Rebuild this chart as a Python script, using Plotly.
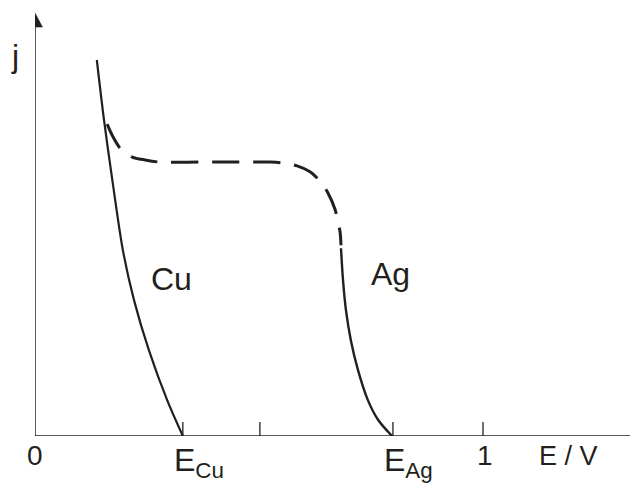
import plotly.graph_objects as go

# ---- data (E in V, j in normalised units) ----
cu_E = [0.138, 0.154, 0.172, 0.196, 0.221, 0.254, 0.295, 0.330]
cu_j = [0.891, 0.749, 0.611, 0.441, 0.322, 0.204, 0.085, 0.000]

limit_E = [0.161, 0.174, 0.190, 0.217, 0.246, 0.279, 0.368, 0.464, 0.525, 0.554,
           0.585, 0.614, 0.638, 0.654, 0.670, 0.681, 0.683]
limit_j = [0.739, 0.709, 0.682, 0.661, 0.654, 0.649, 0.649, 0.649, 0.649, 0.647,
           0.640, 0.626, 0.602, 0.576, 0.536, 0.483, 0.452]

ag_E = [0.683, 0.6875, 0.694, 0.705, 0.721, 0.743, 0.766, 0.797]
ag_j = [0.445, 0.370, 0.299, 0.227, 0.156, 0.085, 0.038, 0.000]

tick_vals = [0.330, 0.502, 0.799, 1.0]
label_vals = [0.0, 0.330, 0.799, 1.0]
label_texts = ["0", "E<sub>Cu</sub>", "E<sub>Ag</sub>", "1"]
curve_labels = ["Cu", "Ag"]
curve_label_pos = [(0.254, 0.373), (0.745, 0.384)]

INK = "#231f20"
FONT = "Liberation Sans, Arial, sans-serif"

fig = go.Figure()
fig.add_trace(go.Scatter(x=cu_E, y=cu_j, mode="lines",
                         line=dict(color=INK, width=2.2, shape="spline", smoothing=0.8),
                         hoverinfo="skip", showlegend=False))
fig.add_trace(go.Scatter(x=limit_E, y=limit_j, mode="lines",
                         line=dict(color=INK, width=3, shape="spline", smoothing=0.8,
                                   dash="27px,14px"),
                         hoverinfo="skip", showlegend=False))
fig.add_trace(go.Scatter(x=ag_E, y=ag_j, mode="lines",
                         line=dict(color=INK, width=2.4, shape="spline", smoothing=0.8),
                         hoverinfo="skip", showlegend=False))

# plot area: 611 x 428 px, page body adds an 8px offset
x_max = 611 / 448
y_max = 428 / 422
PH = 428.0


def paper_y(offset_px):
    """paper coordinate for a point offset_px below the x axis"""
    return -offset_px / PH


shapes = []
shapes.append(dict(type="line", xref="x", yref="y", x0=0, x1=x_max, y0=0, y1=0,
                   line=dict(color=INK, width=1.5)))
shapes.append(dict(type="line", xref="x", yref="y", x0=0, x1=0, y0=0, y1=0.975,
                   line=dict(color=INK, width=1.5)))
for tv in tick_vals:
    shapes.append(dict(type="line", xref="x", yref="y", x0=tv, x1=tv, y0=0, y1=0.033,
                       line=dict(color=INK, width=1.3)))
shapes.append(dict(type="path", xref="x", yref="y",
                   path="M -0.0167,0.969 L 0.0167,0.969 L 0,1.0025 Z",
                   fillcolor=INK, line=dict(color=INK, width=0.5)))
shapes.append(dict(type="path", xref="x", yref="y",
                   path="M 1.3326,-0.0178 L 1.3326,0.0178 L 1.3638,0 Z",
                   fillcolor=INK, line=dict(color=INK, width=0.5)))

ann = []
for v, t in zip(label_vals, label_texts):
    if t.startswith("E"):
        ann.append(dict(x=v, y=paper_y(26), xref="x", yref="paper", text=t, showarrow=False,
                        xanchor="left", yanchor="middle", xshift=-11,
                        font=dict(family=FONT, size=32, color=INK)))
    else:
        ann.append(dict(x=v, y=paper_y(20), xref="x", yref="paper", text=t, showarrow=False,
                        xanchor="center", yanchor="middle", xshift=2 if t == "1" else 0,
                        font=dict(family=FONT, size=28, color=INK)))
ann.append(dict(x=1.127, y=paper_y(20), xref="x", yref="paper", text="E / V", showarrow=False,
                xanchor="left", yanchor="middle", xshift=-3,
                font=dict(family=FONT, size=27, color=INK)))
ann.append(dict(x=0, y=0.9, xref="x", yref="y", text="j", showarrow=False,
                xanchor="center", yanchor="middle", xshift=-20,
                font=dict(family=FONT, size=32, color=INK)))
for t, (lx, ly) in zip(curve_labels, curve_label_pos):
    ann.append(dict(x=lx, y=ly, xref="x", yref="y", text=t, showarrow=False,
                    xanchor="left", yanchor="middle",
                    font=dict(family=FONT, size=32, color=INK)))

fig.update_layout(
    width=638, height=484,
    margin=dict(l=27, r=0, t=0, b=56, pad=0),
    paper_bgcolor="white", plot_bgcolor="white",
    xaxis=dict(range=[0, x_max], visible=False, fixedrange=True),
    yaxis=dict(range=[0, y_max], visible=False, fixedrange=True),
    shapes=shapes, annotations=ann, showlegend=False,
)
fig.write_html("out.html")
